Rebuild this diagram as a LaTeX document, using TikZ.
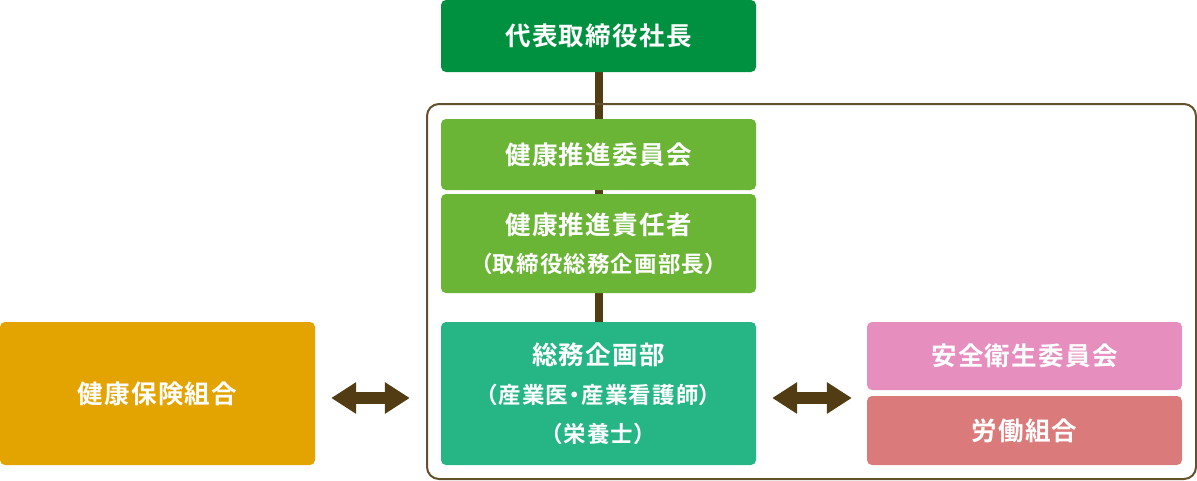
\documentclass[tikz,border=0pt]{standalone}
\usepackage{fontspec}
\setmainfont{Noto Sans CJK JP}[BoldFont=* Bold, LetterSpace=5, RawFeature=+palt]
\usetikzlibrary{arrows.meta,backgrounds}

\definecolor{darkgreen}{RGB}{0,145,64}
\definecolor{leafgreen}{RGB}{106,181,53}
\definecolor{teal}{RGB}{38,182,133}
\definecolor{amber}{RGB}{227,163,0}
\definecolor{pinkbox}{RGB}{230,142,190}
\definecolor{rosebox}{RGB}{218,122,122}
\definecolor{brown}{RGB}{82,60,20}

\newcommand{\mainsize}{\fontsize{25.5}{40}\selectfont}
\newcommand{\subsize}{\fontsize{22.5}{40}\selectfont}

\begin{document}
\begin{tikzpicture}[x=1pt, y=-1pt]
    % Box styles
    \tikzset{orgbox/.style={rectangle, rounded corners=5pt, text=white, align=center,
             minimum width=315pt, inner sep=0pt, font=\mainsize\bfseries},
             link/.style={draw=brown, line width=8pt},
             biarrow/.style={draw=brown, line width=12pt,
             {Triangle[length=25pt,width=30pt]}-{Triangle[length=25pt,width=30pt]}}}

    \useasboundingbox (0,0) rectangle (1197,480);

    % Frame round the company side
    \draw[brown!90, line width=2pt, rounded corners=12pt] (427,104) rectangle (1196,479);

    % Top: president
    \node[orgbox, fill=darkgreen, minimum height=72pt] (shacho) at (598.5,36) {代表取締役社長};

    % Health promotion chain
    \node[orgbox, fill=leafgreen, minimum height=71pt] (iinkai) at (598.5,154.5) {健康推進委員会};
    \node[orgbox, fill=leafgreen, minimum height=99pt] (sekinin) at (598.5,243.5)
        {健康推進責任者\\[-2pt]{\subsize\bfseries （取締役総務企画部長）}};
    \node[orgbox, fill=teal, minimum height=143pt] (somu) at (598.5,393.5)
        {総務企画部\\[-1pt]{\subsize\bfseries （産業医・産業看護師）}\\[-1pt]{\subsize\bfseries （栄養士）}};

    % Partners left and right
    \node[orgbox, fill=amber, minimum height=143pt] (hoken) at (157.5,393.5) {健康保険組合};
    \node[orgbox, fill=pinkbox, minimum height=68pt] (anzen) at (1024.5,356) {安全衛生委員会};
    \node[orgbox, fill=rosebox, minimum height=69pt] (roudou) at (1024.5,430.5) {労働組合};

    % Vertical line behind the boxes
    \begin{pgfonlayer}{background}
        \draw[link] (shacho) -- (somu);
    \end{pgfonlayer}

    % Double arrows
    \coordinate (arrowy) at (0,398);
    \draw[biarrow, shorten <=16pt, shorten >=31pt] (hoken.east |- arrowy) -- (somu.west |- arrowy);
    \draw[biarrow, shorten <=16pt, shorten >=15pt] (somu.east |- arrowy) -- (anzen.west |- arrowy);
\end{tikzpicture}
\end{document}
